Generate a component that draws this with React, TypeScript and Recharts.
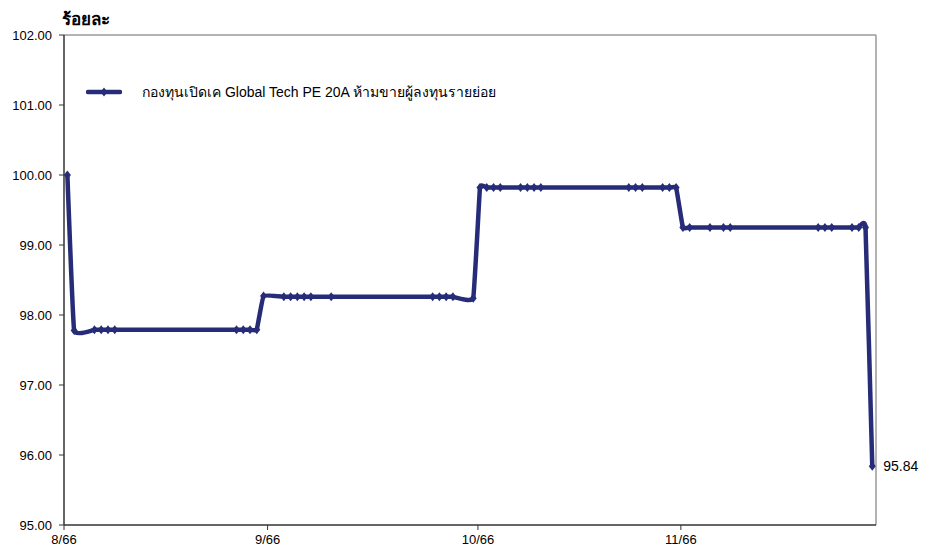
import React from 'react';
import { LineChart, Line, XAxis, YAxis, ReferenceLine, Legend } from 'recharts';

// day index of each observation (0 = first NAV date in 8/66)
const days = [0, 1, 4, 5, 6, 7, 25, 26, 27, 28, 29, 32, 33, 34, 35, 36, 39, 54, 55, 56, 57, 60,
  61, 62, 63, 64, 67, 68, 69, 70, 83, 84, 85, 88, 89, 90, 91, 92, 95, 97, 98, 111, 112, 113, 116, 117, 118, 119];
const navValues = [100.0, 97.78, 97.79, 97.79, 97.79, 97.79, 97.79, 97.79, 97.79, 97.79, 98.27, 98.26, 98.26, 98.26, 98.26, 98.26, 98.26, 98.26, 98.26, 98.26, 98.26, 98.24,
  99.82, 99.82, 99.82, 99.82, 99.82, 99.82, 99.82, 99.82, 99.82, 99.82, 99.82, 99.82, 99.82, 99.82, 99.25, 99.25, 99.25, 99.25, 99.25, 99.25, 99.25, 99.25, 99.25, 99.25, 99.25, 95.84];
const tickPositions = [-0.5, 29.6, 60.7, 90.7];
const tickLabels = ['8/66', '9/66', '10/66', '11/66'];
const yTicks = [95, 96, 97, 98, 99, 100, 101, 102];
const seriesName = 'กองทุนเปิดเค Global Tech PE 20A ห้ามขายผู้ลงทุนรายย่อย';
const unitLabel = 'ร้อยละ';

const data = days.map((d, i) => ({ day: d, nav: navValues[i] }));

const NAVY = '#272C78';
const FONT = '"Liberation Sans", Arial, "Noto Sans", sans-serif';

function makeCardinal(tension: number) {
  const k = (1 - tension) / 6;
  return function (context: any) {
    let x0 = NaN, y0 = NaN, x1 = NaN, y1 = NaN, x2 = NaN, y2 = NaN;
    let pt = 0;
    let line: any = undefined;
    const bez = (x: number, y: number) => {
      context.bezierCurveTo(
        x1 + k * (x2 - x0), y1 + k * (y2 - y0),
        x2 + k * (x1 - x), y2 + k * (y1 - y),
        x2, y2
      );
    };
    return {
      areaStart() { line = 0; },
      areaEnd() { line = NaN; },
      lineStart() { x0 = x1 = x2 = y0 = y1 = y2 = NaN; pt = 0; },
      lineEnd() {
        switch (pt) {
          case 2: context.lineTo(x2, y2); break;
          case 3: bez(x1, y1); break;
        }
        if (line || (line !== 0 && pt === 1)) context.closePath();
        line = 1 - line;
      },
      point(xa: number, ya: number) {
        const x = +xa, y = +ya;
        switch (pt) {
          case 0: pt = 1; if (line) context.lineTo(x, y); else context.moveTo(x, y); break;
          case 1: pt = 2; x1 = x; y1 = y; break;
          case 2: pt = 3; bez(x, y); break;
          default: bez(x, y); break;
        }
        x0 = x1; x1 = x2; x2 = x;
        y0 = y1; y1 = y2; y2 = y;
      },
    };
  };
}

const smoothCurve = makeCardinal(0.75);
const lastIndex = data.length - 1;

const Diamond = (props: any) => {
  const { cx, cy, index, payload } = props;
  if (cx == null || cy == null) return <g key={`d${index}`} />;
  return (
    <g key={`d${index}`}>
      <polygon points={`${cx},${cy - 4.5} ${cx + 3.5},${cy} ${cx},${cy + 4.5} ${cx - 3.5},${cy}`} fill={NAVY} />
      {index === lastIndex && (
        <text x={cx + 11} y={cy + 5} fontSize={14} fontFamily={FONT} fill="#000">
          {payload.nav.toFixed(2)}
        </text>
      )}
    </g>
  );
};

const LegendContent = () => (
  <div style={{ display: 'flex', alignItems: 'center', fontFamily: FONT, fontSize: 14, color: '#000', whiteSpace: 'nowrap' }}>
    <svg width={36} height={12} style={{ marginRight: 20 }}>
      <line x1={2} y1={6} x2={34} y2={6} stroke={NAVY} strokeWidth={4.5} strokeLinecap="round" />
      <polygon points="18,1.5 21.5,6 18,10.5 14.5,6" fill={NAVY} />
    </svg>
    <span>{seriesName}</span>
  </div>
);

export default function App() {
  return (
    <div style={{ position: 'absolute', left: 0, top: 0, width: 934, height: 552, background: '#fff' }}>
      <div style={{ position: 'absolute', left: 62, top: 5, fontFamily: FONT, fontWeight: 'bold', fontSize: 17, color: '#000' }}>
        {unitLabel}
      </div>
      <LineChart width={934} height={552} data={data} margin={{ top: 35, right: 58, left: 0, bottom: 0 }}>
        <XAxis
          dataKey="day"
          type="number"
          domain={[-0.5, 119.55]}
          ticks={tickPositions}
          tickFormatter={(v: number) => tickLabels[tickPositions.indexOf(v)] ?? ''}
          height={27}
          tickSize={5}
          tickMargin={5}
          axisLine={{ stroke: '#333', strokeWidth: 1.5 }}
          tickLine={{ stroke: '#333' }}
          tick={{ fontSize: 13, fill: '#000', fontFamily: FONT }}
          interval={0}
        />
        <YAxis
          type="number"
          domain={[95, 102]}
          ticks={yTicks}
          tickFormatter={(v: number) => v.toFixed(2)}
          width={64}
          tickSize={5}
          tickMargin={7}
          axisLine={{ stroke: '#333', strokeWidth: 1.5 }}
          tickLine={{ stroke: '#333' }}
          tick={{ fontSize: 13, fill: '#000', fontFamily: FONT }}
          interval={0}
        />
        <ReferenceLine y={102} stroke="#9a9a9a" strokeWidth={1.5} ifOverflow="visible" />
        <ReferenceLine x={119.55} stroke="#9a9a9a" strokeWidth={1.5} ifOverflow="visible" />
        <Legend
          verticalAlign="middle"
          align="center"
          content={<LegendContent />}
          wrapperStyle={{ position: 'absolute', top: 81, left: 86, width: 'auto' }}
        />
        <Line
          dataKey="nav"
          name={seriesName}
          type={smoothCurve as any}
          stroke={NAVY}
          strokeWidth={4.5}
          dot={Diamond}
          activeDot={false}
          isAnimationActive={false}
          strokeLinejoin="round"
        />
      </LineChart>
    </div>
  );
}
